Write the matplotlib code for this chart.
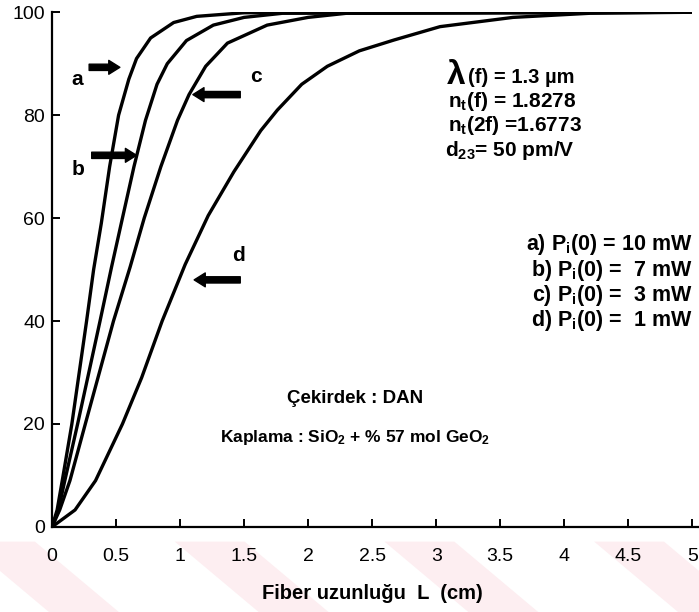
import matplotlib
matplotlib.use("Agg")
import matplotlib.pyplot as plt
from matplotlib.patches import Polygon

plt.rcParams["font.family"] = ["Liberation Sans", "DejaVu Sans"]
plt.rcParams["mathtext.fontset"] = "custom"
plt.rcParams["mathtext.rm"] = "Liberation Sans:bold"
plt.rcParams["mathtext.it"] = "Liberation Sans:bold"
plt.rcParams["mathtext.bf"] = "Liberation Sans:bold"

# values: conversion efficiency (%) vs fibre length (cm)
L_a = [0, 0.04, 0.08, 0.155, 0.27, 0.325, 0.385, 0.45, 0.52, 0.60, 0.66, 0.77, 0.95, 1.13, 1.5, 5.0]
eta_a = [0, 3.3, 9, 20, 40, 50, 59, 70, 80, 87, 91, 95, 98, 99.2, 99.9, 100]

L_b = [0, 0.05, 0.10, 0.20, 0.375, 0.465, 0.55, 0.64, 0.73, 0.82, 0.90, 1.05, 1.26, 1.5, 1.8, 5.0]
eta_b = [0, 3.3, 9, 20, 40, 50.5, 60, 70, 79, 86, 90, 94.5, 97.5, 99, 99.8, 100]

L_c = [0, 0.06, 0.14, 0.26, 0.48, 0.61, 0.72, 0.85, 0.98, 1.07, 1.2, 1.37, 1.68, 2.0, 2.3, 5.0]
eta_c = [0, 3.3, 9, 20, 40, 50.5, 60, 70, 79, 84, 89.5, 94, 97.5, 99, 99.8, 100]

L_d = [0, 0.18, 0.34, 0.55, 0.70, 0.86, 1.04, 1.22, 1.42, 1.63, 1.76, 1.95, 2.15, 2.4, 2.67,
       3.03, 3.6, 4.2, 5.0]
eta_d = [0, 3.3, 9, 20, 29, 40, 51, 60.5, 69, 77, 81, 86, 89.5, 92.5, 94.6, 97.2, 99, 99.8, 100]

x_ticks = [0, 0.5, 1, 1.5, 2, 2.5, 3, 3.5, 4, 4.5, 5]
x_ticklabels = ["0", "0.5", "1", "1.5", "2", "2.5", "3", "3.5", "4", "4.5", "5"]
y_ticks = [0, 20, 40, 60, 80, 100]

params = [r"n$_t$(f) = 1.8278", r"n$_t$(2f) =1.6773", r"d$_{23}$= 50 pm/V"]
powers = [r"a) P$_i$(0) = 10 mW", r"b) P$_i$(0) =  7 mW",
          r"c) P$_i$(0) =  3 mW", r"d) P$_i$(0) =  1 mW"]

fig = plt.figure(figsize=(6.99, 6.12), dpi=100)

# faint pink watermark stripes at the bottom of the scan
for x0 in [-0.05, 0.25, 0.55, 0.85]:
    fig.patches.append(Polygon([[x0, 0.115], [x0 + 0.1, 0.115], [x0 + 0.22, 0.0], [x0 + 0.12, 0.0]],
                               closed=True, transform=fig.transFigure, facecolor="#fdeef1",
                               edgecolor="none", zorder=-5))

ax = fig.add_axes([0.0744, 0.139, 0.916, 0.841])
ax.set_facecolor("none")

for L, eta in [(L_a, eta_a), (L_b, eta_b), (L_c, eta_c), (L_d, eta_d)]:
    ax.plot(L, eta, color="black", lw=2.4, solid_capstyle="round", solid_joinstyle="round")

ax.set_xlim(0, 5)
ax.set_ylim(0, 100)
ax.spines["top"].set_visible(False)
ax.spines["right"].set_visible(False)
ax.spines["left"].set_linewidth(1.6)
ax.spines["bottom"].set_linewidth(1.6)
ax.spines["bottom"].set_bounds(0, 5.05)
ax.set_xticks(x_ticks)
ax.set_xticklabels(x_ticklabels)
ax.set_yticks(y_ticks)
ax.tick_params(direction="in", length=6, width=1.4, labelsize=14)
ax.tick_params(axis="x", pad=15)
ax.tick_params(axis="y", pad=5)
ax.set_xlabel("Fiber uzunluğu  L  (cm)", fontsize=14.5, fontweight="bold", labelpad=14)

# curve labels with thick arrows
arrow_style = dict(arrowstyle="simple,head_length=0.8,head_width=1.0,tail_width=0.45",
                   color="black", shrinkA=0, shrinkB=0)
ax.annotate("", xy=(0.53, 89.3), xytext=(0.29, 89.3), arrowprops=arrow_style)
ax.annotate("", xy=(0.66, 72.2), xytext=(0.31, 72.2), arrowprops=arrow_style)
ax.annotate("", xy=(1.10, 84.0), xytext=(1.47, 84.0), arrowprops=arrow_style)
ax.annotate("", xy=(1.11, 48.0), xytext=(1.47, 48.0), arrowprops=arrow_style)
lab = dict(fontsize=15, fontweight="bold", ha="center", va="center")
ax.text(0.20, 87.0, "a", **lab)
ax.text(0.20, 69.5, "b", **lab)
ax.text(1.59, 87.5, "c", **lab)
ax.text(1.46, 52.8, "d", **lab)

ax.text(3.08, 87.8, "λ", fontsize=24, fontweight="bold", va="center", ha="left")
ax.text(3.25, 87.4, "(f) = 1.3 µm", fontsize=14.5, fontweight="bold", va="center", ha="left")
for i, s in enumerate(params):
    ax.text(3.09 - (0.02 if i == 2 else 0), 82.7 - 4.75 * i, s, fontsize=15,
            fontweight="bold", va="center", ha="left")

for i, s in enumerate(powers):
    ax.text(5.0, 54.8 - 4.9 * i, s, fontsize=15.5, fontweight="bold", va="center", ha="right")

ax.text(2.37, 25.0, "Çekirdek : DAN", fontsize=13.5, fontweight="bold", ha="center", va="center")
ax.text(2.37, 17.3, r"Kaplama : SiO$_2$ + % 57 mol GeO$_2$", fontsize=12.5,
        fontweight="bold", ha="center", va="center")

fig.savefig("out.png", dpi=100)
